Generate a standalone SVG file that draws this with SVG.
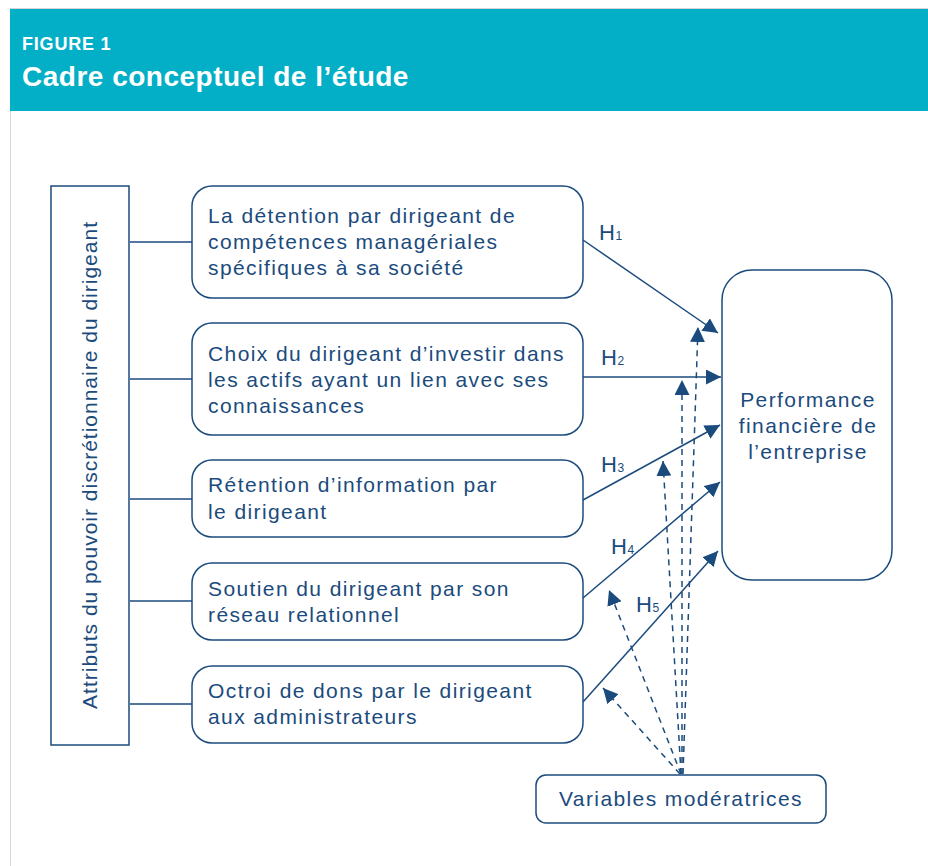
<svg xmlns="http://www.w3.org/2000/svg" width="928" height="866" viewBox="0 0 928 866">
<defs>
<style>
.t{font-family:"Liberation Sans","DejaVu Sans",sans-serif;fill:#1b4b7d;font-size:21px;letter-spacing:1.4px}
.h{font-size:22px;letter-spacing:0.5px}
.rot{letter-spacing:1px}
.box{fill:#fff;stroke:#1b4b7d;stroke-width:1.5}
.ln{stroke:#1b4b7d;stroke-width:1.5;fill:none}
.da{stroke:#1b4b7d;stroke-width:1.5;fill:none;stroke-dasharray:6 5}
.hd{font-family:"Liberation Sans","DejaVu Sans",sans-serif;fill:#fff;font-weight:bold}
.sub{font-size:12px;letter-spacing:0}
</style>
<marker id="ah2" viewBox="0 0 10 10" refX="10" refY="5" markerWidth="15" markerHeight="15" markerUnits="userSpaceOnUse" orient="auto">
<path d="M0,0 L10,5 L0,10 z" fill="#1b4b7d"/>
</marker>
</defs>
<rect x="0" y="0" width="928" height="866" fill="#fff"/>
<line x1="10.5" y1="8" x2="10.5" y2="866" stroke="#d6d6d6" stroke-width="1"/>
<line x1="10" y1="8.5" x2="928" y2="8.5" stroke="#d6d6d6" stroke-width="1"/>
<g id="header">
<rect x="10" y="9" width="918" height="102" fill="#03afc6"/>
<text class="hd" x="22" y="50" font-size="18" letter-spacing="0.8">FIGURE 1</text>
<text class="hd" x="22" y="86" font-size="28" letter-spacing="0.5">Cadre conceptuel de l’étude</text>
</g>
<g id="connectors">
<line class="ln" x1="130" y1="242" x2="192" y2="242"/>
<line class="ln" x1="130" y1="379" x2="192" y2="379"/>
<line class="ln" x1="130" y1="499" x2="192" y2="499"/>
<line class="ln" x1="130" y1="601" x2="192" y2="601"/>
<line class="ln" x1="130" y1="704" x2="192" y2="704"/>
<line class="ln" x1="583" y1="240" x2="718" y2="333" marker-end="url(#ah2)"/>
<line class="ln" x1="583" y1="377" x2="721" y2="377" marker-end="url(#ah2)"/>
<line class="ln" x1="583" y1="500" x2="720" y2="425" marker-end="url(#ah2)"/>
<line class="ln" x1="583" y1="598" x2="720" y2="482" marker-end="url(#ah2)"/>
<line class="ln" x1="583" y1="702" x2="718" y2="551" marker-end="url(#ah2)"/>
<line class="da" x1="683" y1="774" x2="698" y2="327" marker-end="url(#ah2)"/>
<line class="da" x1="682" y1="774" x2="682" y2="380" marker-end="url(#ah2)"/>
<line class="da" x1="681" y1="774" x2="663" y2="461" marker-end="url(#ah2)"/>
<line class="da" x1="681" y1="774" x2="609" y2="590" marker-end="url(#ah2)"/>
<line class="da" x1="680" y1="774" x2="603" y2="688" marker-end="url(#ah2)"/>
<text class="t h" x="599" y="240">H<tspan class="sub">1</tspan></text>
<text class="t h" x="601" y="365">H<tspan class="sub">2</tspan></text>
<text class="t h" x="601" y="472">H<tspan class="sub">3</tspan></text>
<text class="t h" x="611" y="554">H<tspan class="sub">4</tspan></text>
<text class="t h" x="636" y="612">H<tspan class="sub">5</tspan></text>
</g>
<g id="attributs">
<rect class="box" x="51" y="186" width="78" height="559"/>
<text class="t rot" transform="translate(97,465) rotate(-90)" text-anchor="middle">Attributs du pouvoir discrétionnaire du dirigeant</text>
</g>
<g id="n1">
<rect class="box" x="192" y="186" width="391" height="112" rx="20"/>
<text class="t" x="208" y="223">La détention par dirigeant de</text>
<text class="t" x="208" y="249">compétences managériales</text>
<text class="t" x="208" y="275">spécifiques à sa société</text>
</g>
<g id="n2">
<rect class="box" x="192" y="323" width="391" height="112" rx="20"/>
<text class="t" x="208" y="361">Choix du dirigeant d’investir dans</text>
<text class="t" x="208" y="387">les actifs ayant un lien avec ses</text>
<text class="t" x="208" y="413">connaissances</text>
</g>
<g id="n3">
<rect class="box" x="192" y="460" width="391" height="77" rx="20"/>
<text class="t" x="208" y="492">Rétention d’information par</text>
<text class="t" x="208" y="519">le dirigeant</text>
</g>
<g id="n4">
<rect class="box" x="192" y="563" width="391" height="77" rx="20"/>
<text class="t" x="208" y="596">Soutien du dirigeant par son</text>
<text class="t" x="208" y="622">réseau relationnel</text>
</g>
<g id="n5">
<rect class="box" x="192" y="666" width="391" height="77" rx="20"/>
<text class="t" x="208" y="698">Octroi de dons par le dirigeant</text>
<text class="t" x="208" y="724">aux administrateurs</text>
</g>
<g id="performance">
<rect class="box" x="722" y="270" width="170" height="310" rx="30"/>
<text class="t" x="808" y="407" text-anchor="middle">Performance</text>
<text class="t" x="808" y="433" text-anchor="middle">financière de</text>
<text class="t" x="808" y="459" text-anchor="middle">l’entreprise</text>
</g>
<g id="variables">
<rect class="box" x="536" y="775" width="290" height="48" rx="10"/>
<text class="t" x="681" y="806" text-anchor="middle">Variables modératrices</text>
</g>
</svg>
